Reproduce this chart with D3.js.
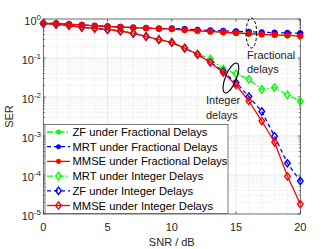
<!DOCTYPE html>
<html><head><meta charset="utf-8">
<script src="https://cdn.jsdelivr.net/npm/d3@7"></script>
<style>body{margin:0;background:#fff}svg{display:block;font-family:"Liberation Sans",Arial,sans-serif}</style>
</head><body><svg id="c" width="332" height="249"></svg>
<script>
const snr = d3.range(0, 21);
const zfFrac   = [0.772,0.764,0.733,0.699,0.666,0.642,0.620,0.598,0.580,0.563,0.547,0.519,0.494,0.474,0.452,0.434,0.420,0.402,0.390,0.379,0.364];
const mrtFrac  = [0.776,0.767,0.736,0.702,0.669,0.646,0.624,0.601,0.584,0.567,0.577,0.554,0.528,0.513,0.498,0.484,0.470,0.456,0.445,0.438,0.430];
const mmseFrac = [0.776,0.767,0.736,0.702,0.669,0.646,0.624,0.601,0.584,0.567,0.551,0.522,0.498,0.478,0.459,0.438,0.423,0.405,0.393,0.382,0.366];
const mrtInt   = [0.767,0.731,0.681,0.613,0.577,0.532,0.492,0.430,0.356,0.294,0.250,0.175,0.128,0.0943,0.0522,0.0394,0.0284,0.0156,0.0175,0.0113,0.00776];
const zfInt    = [0.767,0.731,0.681,0.613,0.577,0.532,0.492,0.430,0.356,0.294,0.250,0.180,0.123,0.0789,0.0451,0.0233,0.0103,0.00425,0.000982,0.000200,0.0000702];
const mmseInt  = [0.767,0.731,0.681,0.613,0.577,0.532,0.492,0.430,0.356,0.294,0.250,0.180,0.123,0.0767,0.0425,0.0203,0.00789,0.00242,0.000690,0.0000926,0.0000180];
const xTicks = [0, 5, 10, 15, 20];
const yTickExps = [0, -1, -2, -3, -4, -5];
const seriesNames = ["ZF under Fractional Delays","MRT under Fractional Delays","MMSE under Fractional Delays","MRT under Integer Delays","ZF under Integer Delays","MMSE under Integer Delays"];
const seriesData = [zfFrac, mrtFrac, mmseFrac, mrtInt, zfInt, mmseInt];
const seriesColor = ["#00ff00","#0000ff","#ff0000","#00ff00","#0000ff","#ff0000"];
const seriesDash = ["6,2,1.5,2","4,3",null,"6,2,1.5,2","4,3",null];
const seriesMarker = ["dot","dot","dot","diamond","diamond","diamond"];

const L = 43.3, R = 300.3, T = 19, B = 214;
const x = d3.scaleLinear().domain([0, 20]).range([L, R]);
const y = d3.scaleLog().domain([1e-5, 1]).range([B, T]);
const svg = d3.select("#c");

// grid minor
const g = svg.append("g");
d3.range(0, 21).filter(v => v % 5 !== 0).forEach(v => {
  g.append("line").attr("x1", x(v)).attr("x2", x(v)).attr("y1", T).attr("y2", B)
   .attr("stroke", "#d4d4d4").attr("stroke-width", 0.6).attr("stroke-dasharray", "1,1.5");
});
for (let e = -5; e < 0; e++) for (let m = 2; m <= 9; m++) {
  const yy = y(m * Math.pow(10, e));
  g.append("line").attr("x1", L).attr("x2", R).attr("y1", yy).attr("y2", yy)
   .attr("stroke", "#d4d4d4").attr("stroke-width", 0.6).attr("stroke-dasharray", "1,1.5");
}
xTicks.forEach(v => g.append("line").attr("x1", x(v)).attr("x2", x(v)).attr("y1", T).attr("y2", B).attr("stroke", "#e3e3e3").attr("stroke-width", 0.8));
yTickExps.forEach(e => g.append("line").attr("x1", L).attr("x2", R).attr("y1", y(Math.pow(10, e))).attr("y2", y(Math.pow(10, e))).attr("stroke", "#e3e3e3").attr("stroke-width", 0.8));

// axes box
svg.append("rect").attr("x", L).attr("y", T).attr("width", R - L).attr("height", B - T)
  .attr("fill", "none").attr("stroke", "#262626").attr("stroke-width", 0.6);
// ticks
xTicks.forEach(v => {
  svg.append("line").attr("x1", x(v)).attr("x2", x(v)).attr("y1", B).attr("y2", B - 2.6).attr("stroke", "#262626").attr("stroke-width", 0.6);
  svg.append("line").attr("x1", x(v)).attr("x2", x(v)).attr("y1", T).attr("y2", T + 2.6).attr("stroke", "#262626").attr("stroke-width", 0.6);
  svg.append("text").attr("x", x(v)).attr("y", B + 17).attr("text-anchor", "middle").attr("font-size", 11).attr("fill", "#262626").text(v);
});
for (let e = -5; e <= 0; e++) {
  const ms = e < 0 ? d3.range(1, 10) : [1];
  ms.forEach(m => {
    const yy = y(m * Math.pow(10, e)); const len = m === 1 ? 2.6 : 1.5;
    svg.append("line").attr("x1", L).attr("x2", L + len).attr("y1", yy).attr("y2", yy).attr("stroke", "#262626").attr("stroke-width", 0.6);
    svg.append("line").attr("x1", R).attr("x2", R - len).attr("y1", yy).attr("y2", yy).attr("stroke", "#262626").attr("stroke-width", 0.6);
  });
}
yTickExps.forEach(e => {
  const t = svg.append("text").attr("x", 41).attr("y", y(Math.pow(10, e)) + 6).attr("text-anchor", "end").attr("font-size", 11).attr("fill", "#262626");
  t.append("tspan").text("10");
  t.append("tspan").attr("dy", -5).attr("font-size", 8).text(String(e));
});
svg.append("text").attr("x", x(10)).attr("y", 246).attr("text-anchor", "middle").attr("font-size", 11).attr("fill", "#262626").text("SNR / dB");
svg.append("text").attr("transform", `translate(13,${(T + B) / 2}) rotate(-90)`).attr("text-anchor", "middle").attr("font-size", 11).attr("fill", "#262626").text("SER");

// series
function marker(sel, type, color, cx, cy, r) {
  if (type === "dot") sel.append("circle").attr("cx", cx).attr("cy", cy).attr("r", r).attr("fill", color).attr("stroke", color).attr("stroke-width", 0.5);
  else sel.append("path").attr("d", `M${cx},${cy - 3.7}L${cx + 2.8},${cy}L${cx},${cy + 3.7}L${cx - 2.8},${cy}Z`).attr("fill", "none").attr("stroke", color).attr("stroke-width", 1.4);
}
const line = d3.line().x((d, i) => x(snr[i])).y(d => y(d));
const plot = svg.append("g");
seriesData.forEach((data, k) => {
  const s = plot.append("g");
  s.append("path").attr("d", line(data)).attr("fill", "none").attr("stroke", seriesColor[k]).attr("stroke-width", 1.3)
   .attr("stroke-dasharray", seriesDash[k]);
  data.forEach((d, i) => marker(s, seriesMarker[k], seriesColor[k], x(snr[i]), y(d), 2.9));
});

// annotations
svg.append("ellipse").attr("cx", x(16.19)).attr("cy", 33).attr("rx", 5.3).attr("ry", 15)
  .attr("fill", "none").attr("stroke", "#000").attr("stroke-width", 1).attr("stroke-dasharray", "3,2");
svg.append("ellipse").attr("transform", `translate(${x(14.6)},${y(0.0307)}) rotate(22)`).attr("rx", 5.5).attr("ry", 16)
  .attr("fill", "none").attr("stroke", "#000").attr("stroke-width", 1.1);
const ann = [["Fractional", 247, 59], ["delays", 247, 73], ["Integer", 206, 104], ["delays", 206, 119]];
ann.forEach(a => svg.append("text").attr("x", a[1]).attr("y", a[2]).attr("font-size", 11).attr("fill", "#262626").text(a[0]));

// legend
const lg = svg.append("g");
lg.append("rect").attr("x", 45).attr("y", 124.5).attr("width", 183).attr("height", 89).attr("fill", "#fff").attr("stroke", "#262626").attr("stroke-width", 0.6);
seriesNames.forEach((n, k) => {
  const yy = 132 + k * 14.7;
  lg.append("line").attr("x1", 47).attr("x2", 70).attr("y1", yy).attr("y2", yy).attr("stroke", seriesColor[k]).attr("stroke-width", 1.3).attr("stroke-dasharray", seriesDash[k]);
  marker(lg, seriesMarker[k], seriesColor[k], 58.5, yy, 2.3);
  lg.append("text").attr("x", 72.5).attr("y", yy + 4).attr("font-size", 11.2).attr("fill", "#000").text(n);
});
</script></body></html>
